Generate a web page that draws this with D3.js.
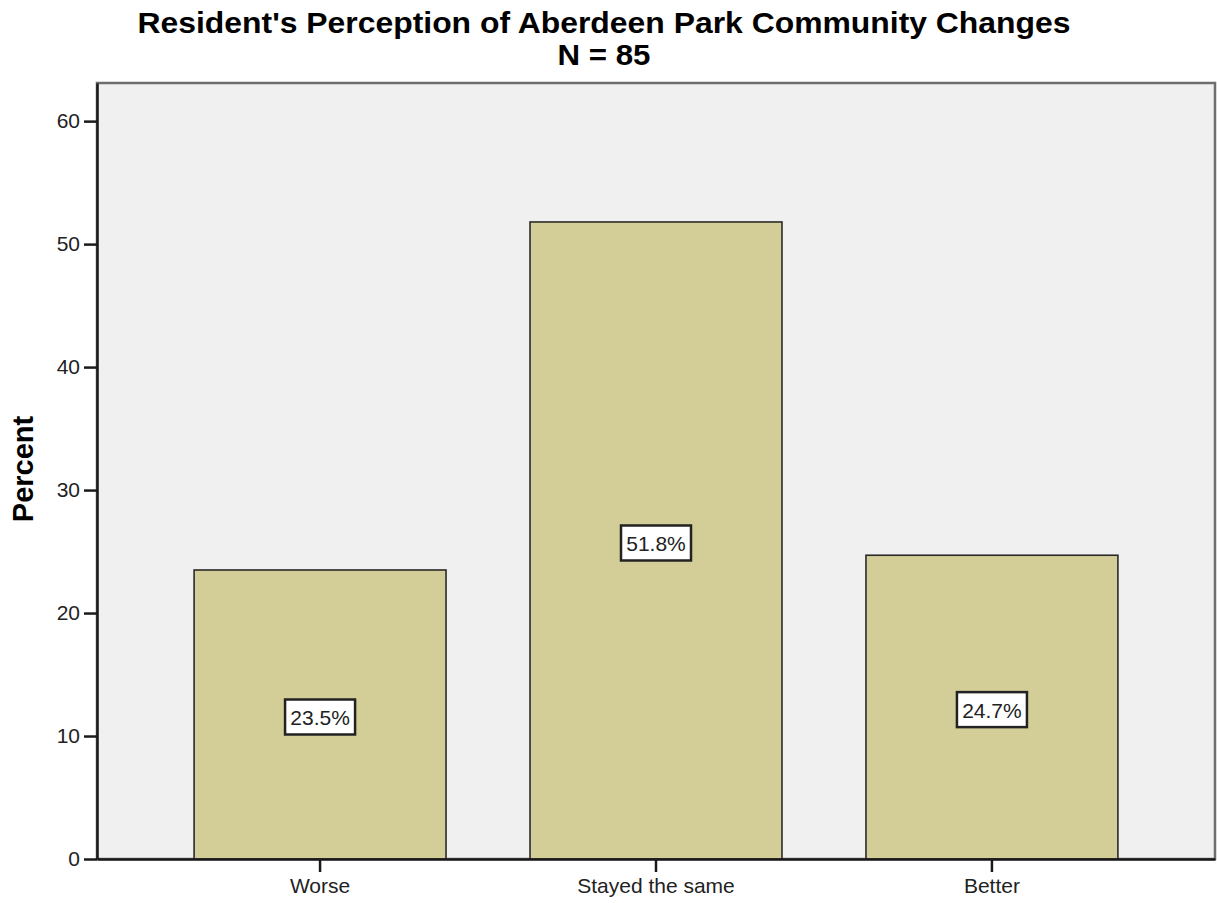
<!DOCTYPE html>
<html>
<head>
<meta charset="utf-8">
<script src="https://cdn.jsdelivr.net/npm/d3@7"></script>
<style>
  body { margin: 0; background: #fff; }
  text { font-family: "Liberation Sans", Arial, sans-serif; }
</style>
</head>
<body>
<svg id="chart" width="1217" height="903"></svg>
<script>
const categories = ["Worse", "Stayed the same", "Better"];
const percents = [23.5, 51.8, 24.7];
const labels = ["23.5%", "51.8%", "24.7%"];
const yTicks = [0, 10, 20, 30, 40, 50, 60];
const titleLines = ["Resident's Perception of Aberdeen Park Community Changes", "N = 85"];
const yLabel = "Percent";

const svg = d3.select("#chart");
const plot = { left: 97, right: 1215, top: 83, bottom: 859 };

const x = d3.scaleBand().domain(categories).range([plot.left, plot.right])
  .paddingInner(0.25).paddingOuter(0.289);
const y = d3.scaleLinear().domain([0, 63.1]).range([plot.bottom, plot.top]);

// plot background
svg.append("rect").attr("x", plot.left).attr("y", plot.top)
  .attr("width", plot.right - plot.left).attr("height", plot.bottom - plot.top)
  .attr("fill", "#f0f0f0").attr("stroke", "#6e6e6e").attr("stroke-width", 2.5);

// bars
svg.append("g").selectAll("rect").data(categories).join("rect")
  .attr("x", d => x(d)).attr("width", x.bandwidth())
  .attr("y", (d, i) => y(percents[i])).attr("height", (d, i) => y(0) - y(percents[i]))
  .attr("fill", "#d3ce98").attr("stroke", "#2a2a2a").attr("stroke-width", 1.6);

// axes
const yAxis = d3.axisLeft(y).tickValues(yTicks).tickSize(13).tickSizeOuter(0).tickPadding(4).tickFormat(d3.format("d"));
const gy = svg.append("g").attr("transform", `translate(${plot.left},0)`).call(yAxis);
gy.select(".domain").attr("stroke", "#1a1a1a").attr("stroke-width", 2.5);
gy.selectAll(".tick line").attr("stroke", "#1a1a1a").attr("stroke-width", 2.5);
gy.selectAll(".tick text").attr("font-size", 21).attr("fill", "#222")
  .attr("font-family", "Liberation Sans, Arial, sans-serif");

const xAxis = d3.axisBottom(x).tickSize(13).tickPadding(6).tickSizeOuter(0);
const gx = svg.append("g").attr("transform", `translate(0,${plot.bottom})`).call(xAxis);
gx.select(".domain").attr("stroke", "#1a1a1a").attr("stroke-width", 2.5);
gx.selectAll(".tick line").attr("stroke", "#1a1a1a").attr("stroke-width", 2.5);
gx.selectAll(".tick text").attr("font-size", 21).attr("fill", "#222")
  .attr("font-family", "Liberation Sans, Arial, sans-serif");

// value labels
const lab = svg.append("g").selectAll("g").data(categories).join("g")
  .attr("transform", (d, i) => `translate(${x(d) + x.bandwidth() / 2},${y(percents[i] / 2) + 3})`);
lab.append("rect").attr("x", -35).attr("y", -18).attr("width", 70).attr("height", 35)
  .attr("fill", "#fff").attr("stroke", "#222").attr("stroke-width", 2.5);
lab.append("text").text((d, i) => labels[i]).attr("text-anchor", "middle").attr("dy", "0.36em")
  .attr("font-size", 21).attr("fill", "#222");

// title
svg.append("text").attr("x", 604).attr("y", 33).attr("text-anchor", "middle")
  .attr("font-size", 30).attr("font-weight", "bold").attr("textLength", 933)
  .attr("lengthAdjust", "spacingAndGlyphs").text(titleLines[0]);
svg.append("text").attr("x", 604).attr("y", 65).attr("text-anchor", "middle")
  .attr("font-size", 30).attr("font-weight", "bold").attr("textLength", 93)
  .attr("lengthAdjust", "spacingAndGlyphs").text(titleLines[1]);

// y label
svg.append("text").attr("transform", "translate(33,469) rotate(-90)").attr("text-anchor", "middle")
  .attr("font-size", 29).attr("font-weight", "bold").text(yLabel);
</script>
</body>
</html>
